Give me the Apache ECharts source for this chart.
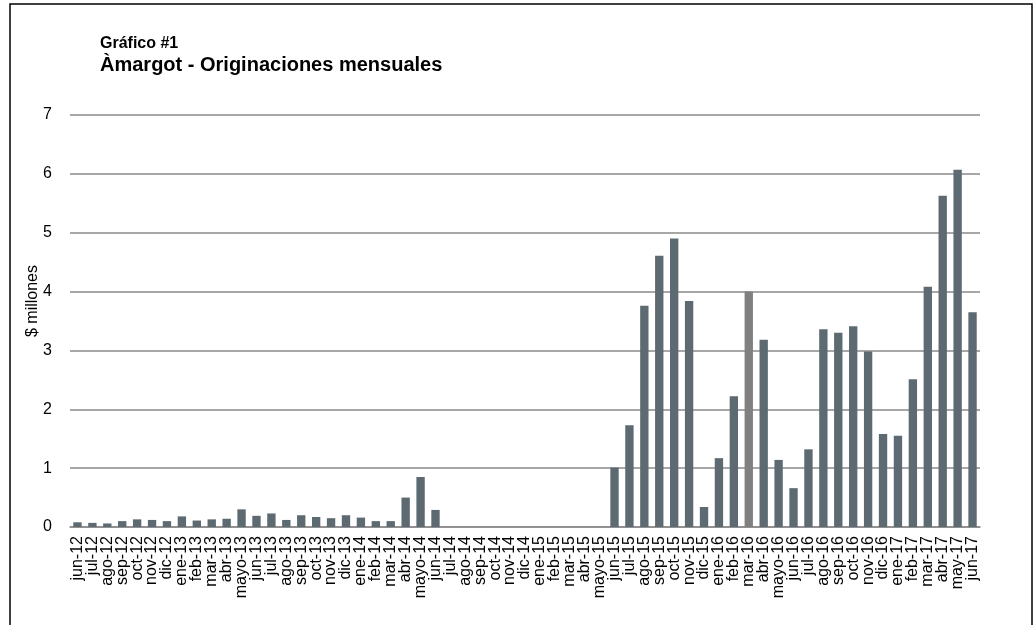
<!DOCTYPE html>
<html>
<head>
<meta charset="utf-8">
<script src="https://cdn.jsdelivr.net/npm/echarts@6/dist/echarts.min.js"></script>
<style>
html,body{margin:0;padding:0;background:#fff;}
#main{width:1035px;height:625px;}
</style>
</head>
<body>
<div id="main"></div>
<script>
// meses
var meses = ['jun-12','jul-12','ago-12','sep-12','oct-12','nov-12','dic-12','ene-13','feb-13','mar-13','abr-13','mayo-13',
    'jun-13','jul-13','ago-13','sep-13','oct-13','nov-13','dic-13','ene-14','feb-14','mar-14','abr-14','mayo-14',
    'jun-14','jul-14','ago-14','sep-14','oct-14','nov-14','dic-14','ene-15','feb-15','mar-15','abr-15','mayo-15',
    'jun-15','jul-15','ago-15','sep-15','oct-15','nov-15','dic-15','ene-16','feb-16','mar-16','abr-16','mayo-16',
    'jun-16','jul-16','ago-16','sep-16','oct-16','nov-16','dic-16','ene-17','feb-17','mar-17','abr-17','may-17','jun-17'];

// originaciones ($ millones)
var originaciones = [0.08,0.07,0.06,0.1,0.13,0.12,0.1,0.18,0.11,0.13,0.14,0.3,
    0.19,0.23,0.12,0.2,0.17,0.15,0.2,0.16,0.1,0.1,0.5,0.85,
    0.29,0,0,0,0,0,0,0,0,0,0,0,
    1.01,1.73,3.76,4.61,4.9,3.84,0.34,1.17,2.22,4.0,3.18,1.14,
    0.66,1.32,3.36,3.3,3.41,2.98,1.58,1.55,2.51,4.08,5.63,6.07,3.65];

var mesDestacado = 'mar-16';
var yTicks = [0,1,2,3,4,5,6,7];

var myChart = echarts.init(document.getElementById('main'));

var datos = [];
for (var i = 0; i < originaciones.length; i++) {
    if (meses[i] == mesDestacado) {
        datos.push({value: originaciones[i], itemStyle: {color: '#808080'}});
    } else {
        datos.push(originaciones[i]);
    }
}

var option = {
    animation: false,
    textStyle: {fontFamily: 'Liberation Sans, Arial, sans-serif'},
    title: [
        {
            text: 'Gráfico #1',
            left: 95, top: 31,
            textStyle: {fontSize: 16, fontWeight: 'bold', color: '#000'}
        },
        {
            text: 'Àmargot - Originaciones mensuales',
            left: 95, top: 50,
            textStyle: {fontSize: 20, fontWeight: 'bold', color: '#000'}
        }
    ],
    graphic: [
        {
            type: 'rect',
            shape: {x: 10, y: 4, width: 1022, height: 700},
            style: {fill: 'none', stroke: '#000', lineWidth: 1.5}
        },
        {
            // titulo del eje y, un poco por encima del centro como en el original
            type: 'text',
            x: 33, y: 301,
            rotation: Math.PI / 2,
            style: {
                text: '$ millones', fontSize: 16, fill: '#000',
                fontFamily: 'Liberation Sans, Arial, sans-serif',
                align: 'center', verticalAlign: 'middle'
            }
        }
    ],
    grid: {left: 70, right: 55, top: 115, bottom: 98},
    xAxis: {
        type: 'category',
        data: meses,
        axisLine: {show: true, lineStyle: {color: '#8a8a8a', width: 1.5}},
        axisTick: {show: false},
        axisLabel: {
            rotate: 90, interval: 0, margin: 9,
            fontSize: 16, color: '#000'
        }
    },
    yAxis: {
        type: 'value',
        min: yTicks[0], max: yTicks[yTicks.length - 1], interval: 1,
        axisLine: {show: false},
        axisTick: {show: false},
        axisLabel: {fontSize: 16, color: '#000', margin: 18},
        splitLine: {show: true, lineStyle: {color: '#8a8a8a', width: 1.5}}
    },
    series: [{
        type: 'bar',
        data: datos,
        barCategoryGap: '44%',
        itemStyle: {color: '#5d6a72'}
    }]
};

myChart.setOption(option);
</script>
</body>
</html>
